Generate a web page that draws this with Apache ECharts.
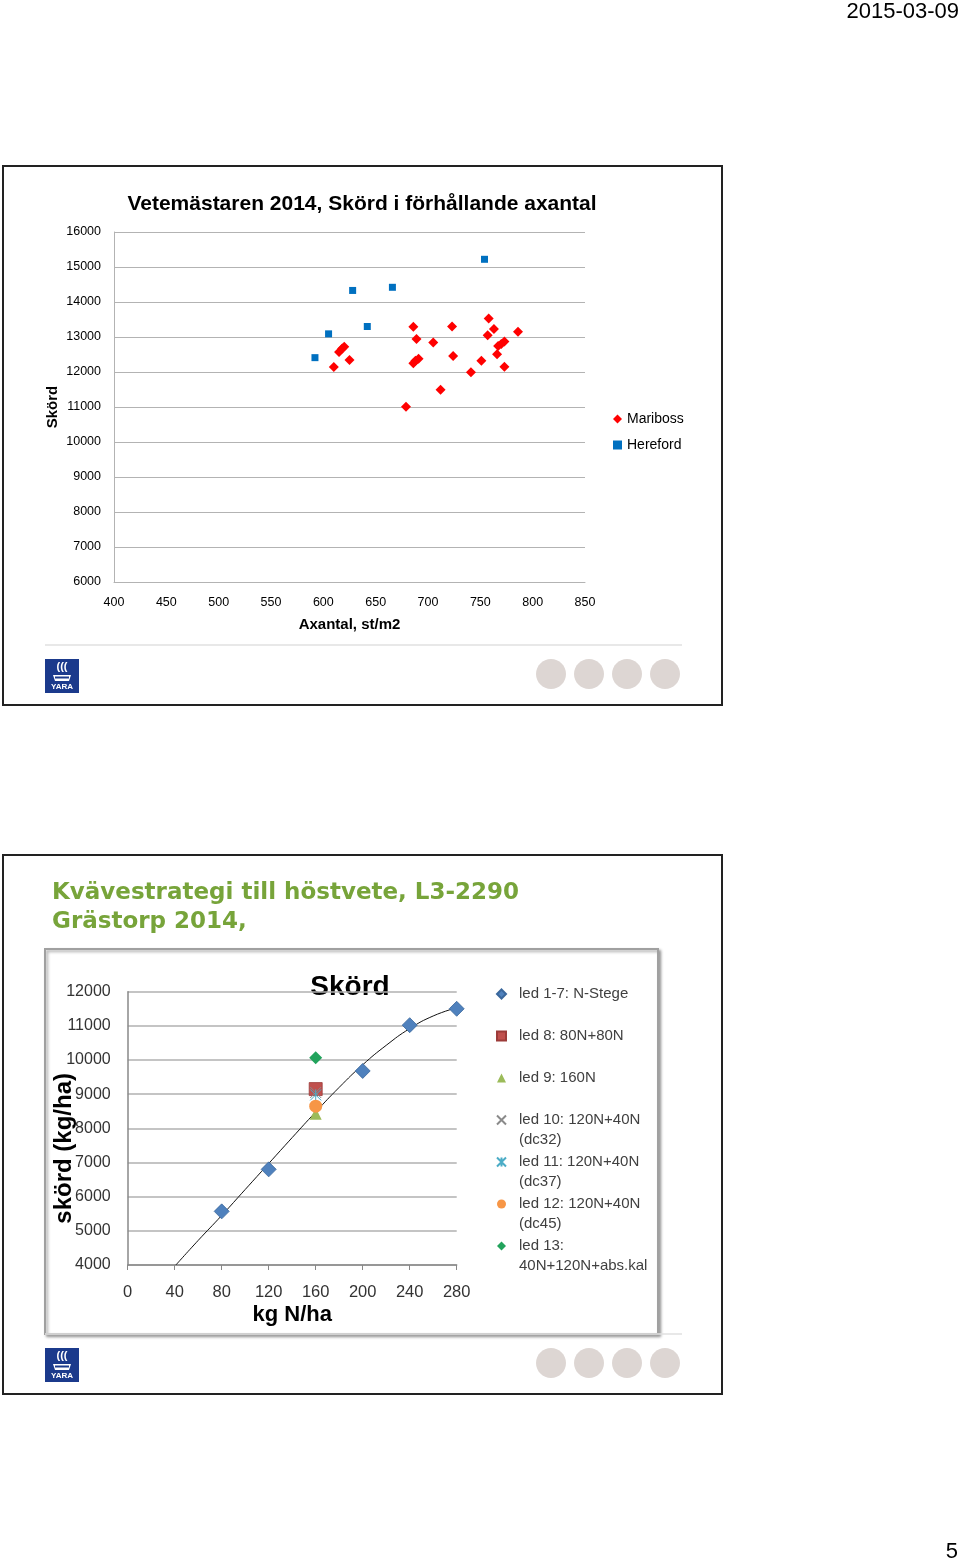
<!DOCTYPE html>
<html><head><meta charset="utf-8">
<script src="https://cdn.jsdelivr.net/npm/echarts@6/dist/echarts.min.js"></script>
<style>html,body{margin:0;padding:0;background:#fff}#c{width:960px;height:1563px}</style>
</head><body><div id="c"></div>
<script>
// ---------- Chart 1 data ----------
const chart1Title = 'Vetemästaren 2014, Skörd i förhållande axantal';
const chart1XName = 'Axantal, st/m2';
const chart1YName = 'Skörd';
const chart1X = {min: 400, max: 850, interval: 50};
const chart1Y = {min: 6000, max: 16000, interval: 1000};
const maribossData = [[610,12140],[615,12570],[618,12670],[620,12720],[625,12340],[679,11010],[686,13290],[689,12940],[686,12250],[688,12320],[691,12380],[705,12840],[712,11490],[723,13300],[724,12460],[741,11990],[751,12320],[758,13530],[757,13050],[763,13230],[766,12510],[767,12740],[770,12800],[773,12870],[773,12150],[786,13150]];
const herefordData = [[592,12410],[605,13090],[628,14330],[642,13300],[666,14420],[754,15220]];

// ---------- Chart 2 data ----------
const chart2Heading = ['Kvävestrategi till höstvete, L3-2290', 'Grästorp 2014,'];
const chart2Title = 'Skörd';
const chart2XName = 'kg N/ha';
const chart2YName = 'skörd (kg/ha)';
const chart2X = {min: 0, max: 280, interval: 40};
const chart2Y = {min: 4000, max: 12000, interval: 1000};
const nStegeData = [[80,5570],[120,6800],[200,9680],[240,11020],[280,11500]];
const led8Data = [[160,9150]];
const led9Data = [[160,8430]];
const led10Data = [[160,9050]];
const led11Data = [[160,8980]];
const led12Data = [[160,8650]];
const led13Data = [[160,10070]];
const trendData = [[41,4000],[60,4720],[80,5450],[100,6210],[120,6970],[140,7730],[160,8480],[180,9200],[200,9860],[220,10430],[240,10920],[260,11290],[280,11530]];
const legend2Names = ['led 1-7: N-Stege','led 8: 80N+80N','led 9: 160N','led 10: 120N+40N','led 11: 120N+40N','led 12: 120N+40N','led 13:'];
const legend2SecondLines = [null,null,null,'(dc32)','(dc37)','(dc45)','40N+120N+abs.kal'];

const dateText = '2015-03-09';
const pageText = '5';

const F = "'Liberation Sans', Arial, sans-serif";
const chart = echarts.init(document.getElementById('c'), null, {renderer: 'canvas'});

function logo(x, y) {
  return {type: 'group', x: x, y: y, children: [
    {type: 'rect', shape: {x: 0, y: 0, width: 34, height: 34}, style: {fill: '#1b3a8c'}},
    {type: 'text', style: {x: 17, y: 8, text: '(((', fill: '#fff', font: 'bold 11px ' + F, align: 'center', verticalAlign: 'middle'}},
    {type: 'polygon', shape: {points: [[8,16],[26,16],[24,22],[10,22]]}, style: {fill: '#fff'}},
    {type: 'rect', shape: {x: 10, y: 17.5, width: 14, height: 2}, style: {fill: '#1b3a8c'}},
    {type: 'text', style: {x: 17, y: 28, text: 'YARA', fill: '#fff', font: 'bold 8px ' + F, align: 'center', verticalAlign: 'middle'}}
  ]};
}
function circles(y) {
  return [551, 589, 627, 665].map(cx => ({type: 'ellipse', shape: {cx: cx, cy: y, rx: 15, ry: 15}, style: {fill: '#ddd6d3'}}));
}

const graphics = [
  {type: 'text', style: {x: 959, y: 12, text: dateText, font: '22px ' + F, fill: '#000', align: 'right', verticalAlign: 'middle'}},
  {type: 'text', style: {x: 958, y: 1552, text: pageText, font: '22px ' + F, fill: '#000', align: 'right', verticalAlign: 'middle'}},
  // slide 1 frame
  {type: 'rect', shape: {x: 3, y: 166, width: 719, height: 539}, style: {fill: 'none', stroke: '#222', lineWidth: 2}, z: 10},
  {type: 'text', style: {x: 362, y: 204, text: chart1Title, font: 'bold 21px ' + F, fill: '#000', align: 'center', verticalAlign: 'middle'}},
  {type: 'line', shape: {x1: 45, y1: 645, x2: 682, y2: 645}, style: {stroke: '#e0e0e0', lineWidth: 1.5}},
  logo(45, 659),
  ...circles(674),
  // slide 2 frame
  {type: 'rect', shape: {x: 3, y: 855, width: 719, height: 539}, style: {fill: 'none', stroke: '#222', lineWidth: 2}, z: 10},
  {type: 'text', style: {x: 52, y: 893, text: chart2Heading[0], font: "bold 23px 'DejaVu Sans', sans-serif", fill: '#77a43a', align: 'left', verticalAlign: 'middle'}},
  {type: 'text', style: {x: 52, y: 922, text: chart2Heading[1], font: "bold 23px 'DejaVu Sans', sans-serif", fill: '#77a43a', align: 'left', verticalAlign: 'middle'}},
  {type: 'line', shape: {x1: 45, y1: 1334, x2: 682, y2: 1334}, style: {stroke: '#e0e0e0', lineWidth: 1.5}},
  {type: 'rect', shape: {x: 45, y: 949, width: 613, height: 385}, style: {fill: '#fff', stroke: '#a0a0a0', lineWidth: 2, shadowBlur: 3, shadowOffsetX: 2, shadowOffsetY: 2, shadowColor: 'rgba(0,0,0,0.35)'}, z: -10},
  {type: 'text', style: {x: 350, y: 987, text: chart2Title, font: 'bold 28px ' + F, fill: '#000', align: 'center', verticalAlign: 'middle'}},
  logo(45, 1348),
  ...circles(1363)
];
legend2SecondLines.forEach((t, i) => {
  if (t) graphics.push({type: 'text', style: {x: 519, y: 993 + i * 42 + 21, text: t, font: '15px ' + F, fill: '#404040', align: 'left', verticalAlign: 'middle'}});
});

const axisLineGrey = {show: true, lineStyle: {color: '#b3b3b3', width: 1}};
const plain = v => String(v);

const option = {
  animation: false,
  backgroundColor: '#fff',
  grid: [
    {left: 114, top: 232, width: 471, height: 350},
    {left: 127.7, top: 991.7, width: 329, height: 273.3}
  ],
  xAxis: [
    {gridIndex: 0, type: 'value', min: chart1X.min, max: chart1X.max, interval: chart1X.interval,
      axisLine: axisLineGrey, axisTick: {show: false}, splitLine: {show: false},
      axisLabel: {fontSize: 12.5, color: '#000', margin: 14, fontFamily: F, formatter: plain},
      name: chart1XName, nameLocation: 'middle', nameGap: 35, nameMoveOverlap: false,
      nameTextStyle: {fontWeight: 'bold', fontSize: 15, color: '#000', fontFamily: F}},
    {gridIndex: 1, type: 'value', min: chart2X.min, max: chart2X.max, interval: chart2X.interval,
      axisLine: {show: true, lineStyle: {color: '#888', width: 1.5}},
      axisTick: {show: true, length: 5, lineStyle: {color: '#888'}}, splitLine: {show: false},
      axisLabel: {fontSize: 16.5, color: '#333', margin: 19, fontFamily: F, formatter: plain},
      name: chart2XName, nameLocation: 'middle', nameGap: 39, nameMoveOverlap: false,
      nameTextStyle: {fontWeight: 'bold', fontSize: 22, color: '#000', fontFamily: F}}
  ],
  yAxis: [
    {gridIndex: 0, type: 'value', min: chart1Y.min, max: chart1Y.max, interval: chart1Y.interval,
      axisLine: axisLineGrey, axisTick: {show: false},
      splitLine: {show: true, lineStyle: {color: '#b3b3b3', width: 1}},
      axisLabel: {fontSize: 12.5, color: '#000', margin: 13, fontFamily: F, formatter: plain},
      name: chart1YName, nameLocation: 'middle', nameGap: 54, nameMoveOverlap: false,
      nameTextStyle: {fontWeight: 'bold', fontSize: 15, color: '#000', fontFamily: F}},
    {gridIndex: 1, type: 'value', min: chart2Y.min, max: chart2Y.max, interval: chart2Y.interval,
      axisLine: {show: true, lineStyle: {color: '#888', width: 1.5}}, axisTick: {show: false},
      splitLine: {show: true, lineStyle: {color: '#b0b0b0', width: 1.5}},
      axisLabel: {fontSize: 16, color: '#333', margin: 17, fontFamily: F, formatter: plain},
      name: chart2YName, nameLocation: 'middle', nameGap: 51, nameMoveOverlap: false,
      nameTextStyle: {fontWeight: 'bold', fontSize: 24, color: '#000', fontFamily: F, padding: [0, 40, 0, 0]}}
  ],
  legend: [
    {orient: 'vertical', left: 613, top: 412, itemWidth: 9, itemHeight: 9, itemGap: 12, padding: 0,
      data: ['Mariboss', 'Hereford'], textStyle: {fontSize: 14, color: '#000', fontFamily: F}},
    {orient: 'vertical', left: 494.5, top: 984, itemWidth: 9, itemHeight: 9, itemGap: 22, padding: 0,
      data: legend2Names, textStyle: {fontSize: 15, color: '#404040', fontFamily: F, lineHeight: 20, padding: [0, 0, 0, 8]}}
  ],
  series: [
    {name: 'Mariboss', type: 'scatter', xAxisIndex: 0, yAxisIndex: 0, symbol: 'diamond', symbolSize: 10, data: maribossData, itemStyle: {color: '#ff0000', opacity: 1}},
    {name: 'Hereford', type: 'scatter', xAxisIndex: 0, yAxisIndex: 0, symbol: 'rect', symbolSize: 7, data: herefordData, itemStyle: {color: '#0070c0', opacity: 1}},
    {name: 'trend', type: 'line', xAxisIndex: 1, yAxisIndex: 1, data: trendData, smooth: true, showSymbol: false, symbol: 'none', lineStyle: {color: '#111', width: 1}, z: 1, silent: true},
    {name: legend2Names[0], type: 'scatter', xAxisIndex: 1, yAxisIndex: 1, symbol: 'diamond', symbolSize: 15, data: nStegeData, itemStyle: {color: '#4f81bd', borderColor: '#3a679c', borderWidth: 0.8, opacity: 1}, z: 3},
    {name: legend2Names[1], type: 'scatter', xAxisIndex: 1, yAxisIndex: 1, symbol: 'rect', symbolSize: 13, data: led8Data, itemStyle: {color: '#c0504d', borderColor: '#9c3b39', borderWidth: 0.8, opacity: 1}, z: 3},
    {name: legend2Names[2], type: 'scatter', xAxisIndex: 1, yAxisIndex: 1, symbol: 'triangle', symbolSize: 12, data: led9Data, itemStyle: {color: '#9bbb59', opacity: 1}, z: 3},
    {name: legend2Names[3], type: 'scatter', xAxisIndex: 1, yAxisIndex: 1, symbol: 'path://M0,0L10,10M10,0L0,10', symbolSize: 11, data: led10Data, itemStyle: {color: 'none', borderColor: '#8a8a8a', borderWidth: 1, opacity: 1}, z: 4},
    {name: legend2Names[4], type: 'scatter', xAxisIndex: 1, yAxisIndex: 1, symbol: 'path://M0,0L10,10M10,0L0,10M5,0L5,10', symbolSize: 11, data: led11Data, itemStyle: {color: 'none', borderColor: '#4bacc6', borderWidth: 1, opacity: 1}, z: 4},
    {name: legend2Names[5], type: 'scatter', xAxisIndex: 1, yAxisIndex: 1, symbol: 'circle', symbolSize: 13, data: led12Data, itemStyle: {color: '#f79646', opacity: 1}, z: 5},
    {name: legend2Names[6], type: 'scatter', xAxisIndex: 1, yAxisIndex: 1, symbol: 'diamond', symbolSize: 13, data: led13Data, itemStyle: {color: '#22a35c', opacity: 1}, z: 5}
  ],
  graphic: graphics
};
chart.setOption(option);
</script>
</body></html>
